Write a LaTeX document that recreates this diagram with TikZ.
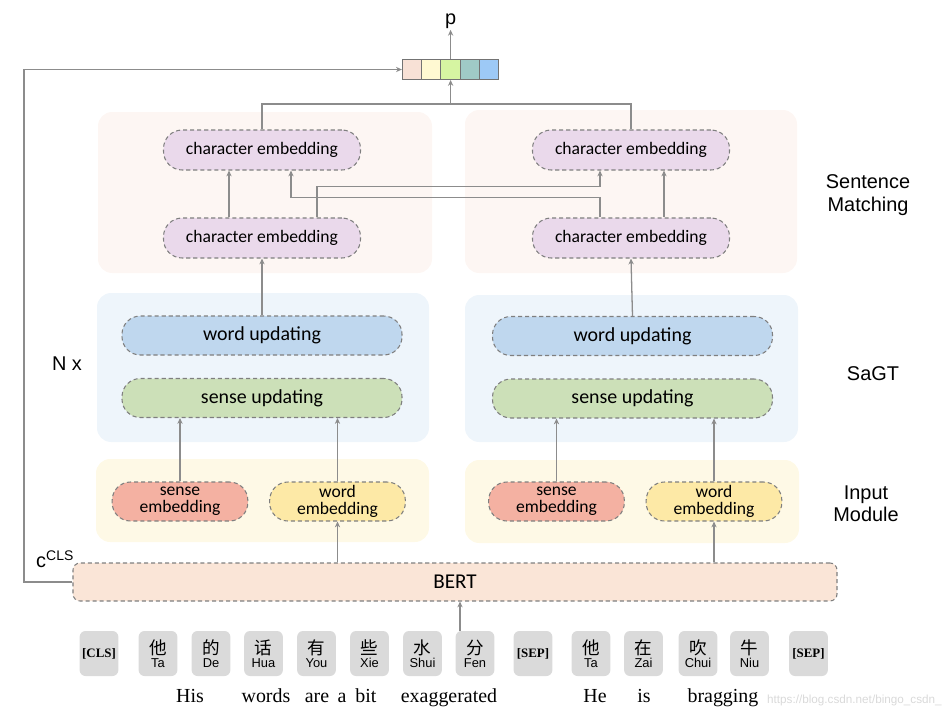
\documentclass[tikz,border=0pt]{standalone}
\usepackage{fontspec}
\setmainfont{Carlito}
\newfontfamily\arialf{Liberation Sans}
\newfontfamily\romanf{Liberation Serif}
\newfontfamily\cjk{Noto Sans CJK SC}
\usetikzlibrary{arrows.meta,calc}

\definecolor{linegray}{HTML}{8C8C8C}
\definecolor{dashgray}{HTML}{7F7F7F}
\definecolor{smpanel}{HTML}{FDF6F3}
\definecolor{sagtpanel}{HTML}{EEF5FB}
\definecolor{inpanel}{HTML}{FEF9E6}
\definecolor{charemb}{HTML}{EAD9EB}
\definecolor{wordupd}{HTML}{BFD7EE}
\definecolor{senseupd}{HTML}{CCE0B8}
\definecolor{senseemb}{HTML}{F4B1A2}
\definecolor{wordemb}{HTML}{FDE9A6}
\definecolor{bertfill}{HTML}{FAE5D7}
\definecolor{tokgray}{HTML}{DADADA}
\definecolor{vecA}{HTML}{F8E1D6}
\definecolor{vecB}{HTML}{FFF9D2}
\definecolor{vecC}{HTML}{D6F5A2}
\definecolor{vecD}{HTML}{9FCAC6}
\definecolor{vecE}{HTML}{9DC9F6}

\tikzset{
  box/.style={draw=dashgray, line width=0.9pt, dash pattern=on 3.5pt off 2.5pt,
    align=center, inner sep=0pt},
  charbox/.style={box, fill=charemb, minimum width=5.91cm, minimum height=1.2cm,
    rounded corners=0.56cm, font=\fontsize{15}{15}\selectfont},
  updbox/.style={box, minimum width=8.4cm, minimum height=1.17cm,
    rounded corners=0.55cm, font=\fontsize{17}{17}\selectfont},
  embbox/.style={box, minimum width=4.07cm, minimum height=1.17cm,
    rounded corners=0.55cm, font=\fontsize{15}{14.5}\selectfont},
  vcell/.style={draw=gray!90!black, line width=0.8pt, minimum width=0.58cm,
    minimum height=0.6cm, inner sep=0pt},
  tok/.style={fill=tokgray, rounded corners=5pt, minimum width=1.16cm,
    minimum height=1.35cm, inner sep=0pt, align=center},
  lbl/.style={font=\arialf\fontsize{17}{19}\selectfont, align=center},
  eng/.style={font=\romanf\fontsize{17}{17}\selectfont, anchor=base},
  ln/.style={draw=linegray, line width=1.1pt},
  arr/.style={ln, -{Stealth[length=5pt,width=4.5pt]}},
}

\newcommand{\hz}[1]{{\cjk\fontsize{15}{15}\selectfont #1}}
\newcommand{\pyn}[1]{{\arialf\fontsize{11}{11}\selectfont #1}}

\begin{document}
\begin{tikzpicture}[x=0.03cm,y=-0.03cm]
\useasboundingbox (0,0) rectangle (942,720);

\fill[smpanel, rounded corners=12pt] (98,112) rectangle (432,273);
\fill[smpanel, rounded corners=12pt] (465,110) rectangle (797,273);
\fill[sagtpanel, rounded corners=12pt] (97,293) rectangle (429,442);
\fill[sagtpanel, rounded corners=12pt] (465,295) rectangle (798,442);
\fill[inpanel, rounded corners=12pt] (96,459) rectangle (429,542);
\fill[inpanel, rounded corners=12pt] (465,460) rectangle (799,543);

\node[vcell, fill=vecA] (v1) at (412,69.5) {};
\node[vcell, fill=vecB] (v2) at (431.3,69.5) {};
\node[vcell, fill=vecC] (v3) at (450.6,69.5) {};
\node[vcell, fill=vecD] (v4) at (469.9,69.5) {};
\node[vcell, fill=vecE] (v5) at (489.2,69.5) {};
\node[lbl, inner sep=1pt] (p) at (450.6,21) {p};

\node[charbox] (cl2) at (262,150) {character embedding};
\node[charbox] (cl1) at (262,238) {character embedding};
\node[charbox] (cr2) at (631,150) {character embedding};
\node[charbox] (cr1) at (631,238) {character embedding};

\node[updbox, fill=wordupd] (wl) at (262,335.5) {word updating};
\node[updbox, fill=senseupd] (sl) at (262,398) {sense updating};
\node[updbox, fill=wordupd] (wr) at (632.5,336) {word updating};
\node[updbox, fill=senseupd] (sr) at (632.5,398.5) {sense updating};

\node[embbox, fill=senseemb] (els) at (180,501.5) {sense\\embedding};
\node[embbox, fill=wordemb] (elw) at (337.5,501.5) {word\\embedding};
\node[embbox, fill=senseemb] (ers) at (556.5,501.5) {sense\\embedding};
\node[embbox, fill=wordemb] (erw) at (714,501.5) {word\\embedding};

\node[box, fill=bertfill, minimum width=22.92cm, minimum height=1.14cm,
  rounded corners=6pt, font=\fontsize{18}{18}\selectfont] (bert) at (455,582) {BERT};

\node[tok] (cls) at (99,653.5) {\romanf\bfseries\fontsize{11}{11}\selectfont [CLS]};
\foreach \x/\h/\p [count=\i] in {158/他/Ta, 211/的/De, 263.5/话/Hua, 316.5/有/You,
    369.5/些/Xie, 422.5/水/Shui, 475/分/Fen, 591/他/Ta, 643.5/在/Zai,
    698/吹/Chui, 749.5/牛/Niu}
  \node[tok] (t\i) at (\x,653.5) {\hz{\h}\\[-1pt]\pyn{\p}};
\node[tok] (sep1) at (533,653.5) {\romanf\bfseries\fontsize{11}{11}\selectfont [SEP]};
\node[tok] (sep2) at (808.5,653.5) {\romanf\bfseries\fontsize{11}{11}\selectfont [SEP]};

\node[text=gray!30, font=\arialf\fontsize{10}{10}\selectfont, anchor=base west] (wm) at (763,703) {https://blog.csdn.net/bingo\_csdn\_};
\node[eng] (w1) at (190,702) {His};
\node[eng] (w2) at (266,702) {words};
\node[eng] (w3) at (317,702) {are};
\node[eng] (w4) at (342,702) {a};
\node[eng] (w5) at (366,702) {bit};
\node[eng] (w6) at (449,702) {exaggerated};
\node[eng] (w7) at (595,702) {He};
\node[eng] (w8) at (644,702) {is};
\node[eng] (w9) at (723,702) {bragging};

\node[lbl] (sm) at (868,195) {Sentence\\Matching};
\node[lbl] (sagt) at (873,374) {SaGT};
\node[lbl] (inmod) at (866,504) {Input\\Module};
\node[lbl] (nx) at (67,364) {N x};
\node[lbl, anchor=south west, inner sep=0pt] (ccls) at (36,568) {c\textsuperscript{CLS}};

\coordinate (bus) at (450.6,104);
\coordinate (lft) at (24,0);

\draw[arr] (v3.north) -- (p.south);
\draw[ln] (cl2.north) |- (bus) -| (cr2.north);
\draw[arr] (bus) -- (v3.south);
\draw[arr] (bert.west) -- (bert.west -| lft) |- (v1.west);

\draw[arr] ([xshift=-0.99cm]cl1.north) -- ([xshift=-0.99cm]cl2.south);
\draw[arr] ([xshift=1.65cm]cl1.north) -- ++(0,-31) -| ([xshift=-0.93cm]cr2.south);
\draw[arr] ([xshift=-0.93cm]cr1.north) -- ++(0,-20) -| ([xshift=0.87cm]cl2.south);
\draw[arr] ([xshift=0.99cm]cr1.north) -- ([xshift=0.99cm]cr2.south);

\draw[arr] (wl.north) -- (cl1.south);
\draw[arr] (wr.north) -- (cr1.south);

\draw[arr] (els.north) -- (els.north |- sl.south);
\draw[arr] (elw.north) -- (elw.north |- sl.south);
\draw[arr] (ers.north) -- (ers.north |- sr.south);
\draw[arr] (erw.north) -- (erw.north |- sr.south);

\draw[arr] (bert.north -| elw) -- (elw.south);
\draw[arr] (bert.north -| erw) -- (erw.south);
\draw[arr] ([xshift=-0.45cm]t7.north) -- ([xshift=-0.45cm]t7.north |- bert.south);
\end{tikzpicture}
\end{document}
